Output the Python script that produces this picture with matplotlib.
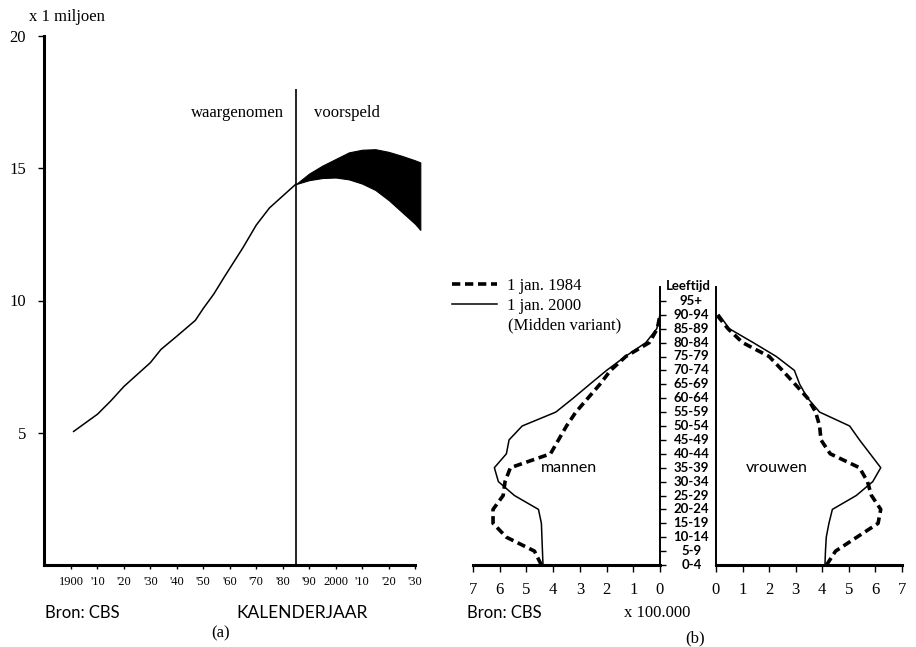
import numpy as np
import matplotlib.pyplot as plt
from matplotlib.lines import Line2D

# population of the Netherlands, millions (observed)
years = [1901, 1910, 1915, 1920, 1930, 1934, 1940, 1947, 1950, 1954, 1958, 1965, 1970, 1975, 1980, 1985]
pop = [5.05, 5.7, 6.2, 6.75, 7.65, 8.15, 8.65, 9.25, 9.7, 10.25, 10.9, 12.0, 12.85, 13.5, 13.95, 14.4]

# forecast band (upper / lower variant)
proj_years = [1985, 1990, 1995, 2000, 2005, 2010, 2015, 2020, 2025, 2030, 2032]
proj_high = [14.4, 14.8, 15.1, 15.35, 15.6, 15.7, 15.72, 15.62, 15.47, 15.3, 15.22]
proj_low = [14.4, 14.55, 14.63, 14.65, 14.58, 14.42, 14.18, 13.8, 13.35, 12.9, 12.67]

decade_ticks = list(range(1900, 2031, 10))
decade_labels = ["1900", "'10", "'20", "'30", "'40", "'50", "'60", "'70", "'80",
                 "'90", "2000", "'10", "'20", "'30"]

# age pyramid, x 100.000
age_groups = ["0-4", "5-9", "10-14", "15-19", "20-24", "25-29", "30-34", "35-39",
              "40-44", "45-49", "50-54", "55-59", "60-64", "65-69", "70-74",
              "75-79", "80-84", "85-89", "90-94", "95+"]
men_1984 = [4.44, 4.7, 5.75, 6.25, 6.25, 5.87, 5.8, 5.6, 4.1, 3.8, 3.5, 3.15,
            2.7, 2.25, 1.85, 1.28, 0.4, 0.1, 0.0]
men_2000 = [4.38, 4.4, 4.42, 4.44, 4.55, 5.45, 6.05, 6.2, 5.75, 5.65, 5.16, 3.9,
            3.25, 2.63, 2.0, 1.3, 0.53, 0.12, 0.0]
women_1984 = [4.16, 4.5, 5.3, 6.1, 6.2, 5.85, 5.7, 5.4, 4.3, 3.95, 3.9, 3.75,
              3.45, 2.98, 2.5, 2.0, 1.0, 0.45, 0.03]
women_2000 = [4.1, 4.12, 4.15, 4.25, 4.38, 5.28, 5.9, 6.2, 5.8, 5.4, 5.03, 3.9,
              3.45, 3.15, 2.95, 2.27, 1.4, 0.5, 0.12]

serif = "Liberation Serif"
sans = "Lato"

W, H = 916, 647
fig = plt.figure(figsize=(W / 100, H / 100), dpi=100)


def box(x0, y0, x1, y1):
    # pixel box -> figure fraction
    return [x0 / W, 1 - y1 / H, (x1 - x0) / W, (y1 - y0) / H]


# ---------------- (a) total population ----------------
ax = fig.add_axes(box(44, 36, 415, 565))
ax.plot(years, pop, color="black", lw=1.1)
ax.fill_between(proj_years, proj_low, proj_high, color="black", lw=0.8, clip_on=False)
ax.vlines(1985, 0, 18, color="black", lw=1.2, clip_on=False)
ax.set_xlim(1889.8, 2030)
ax.set_ylim(0, 20)
for s in ["top", "right"]:
    ax.spines[s].set_visible(False)
ax.spines["left"].set_linewidth(2.2)
ax.spines["bottom"].set_linewidth(2.2)
ax.set_yticks([5, 10, 15, 20])
ax.set_yticklabels(["5", "10", "15", "20"], fontfamily=serif, fontsize=12)
ax.tick_params(axis="y", length=4, width=1, pad=9)
ax.set_xticks(decade_ticks)
ax.set_xticklabels(decade_labels, fontfamily=serif, fontsize=9)
ax.tick_params(axis="x", length=3, width=1, pad=5)
ax.text(1980.5, 17.1, "waargenomen", fontfamily=serif, fontsize=12, ha="right", va="center")
ax.text(1992, 17.1, "voorspeld", fontfamily=serif, fontsize=12, ha="left", va="center")

fig.text(29 / W, 1 - 17 / H, "x 1 miljoen", fontfamily=serif, fontsize=12, ha="left", va="center")
fig.text(45 / W, 1 - 613 / H, "Bron: CBS", fontfamily=sans, fontsize=12, ha="left", va="center")
fig.text(302 / W, 1 - 613 / H, "KALENDERJAAR", fontfamily=sans, fontsize=12.5, ha="center", va="center")
fig.text(221 / W, 1 - 633 / H, "(a)", fontfamily=serif, fontsize=12, ha="center", va="center")

# ---------------- (b) age pyramid ----------------
idx = np.arange(len(age_groups))
dash = dict(color="black", lw=2.6, linestyle=(0, (2.3, 1.3)))
solid = dict(color="black", lw=1.1)

axm = fig.add_axes(box(473, 287, 660, 565))
axm.plot(men_1984, idx[:len(men_1984)], **dash)
axm.plot(men_2000, idx[:len(men_2000)], **solid)
axm.set_xlim(7, 0)
axm.set_ylim(0, 20)
for s in ["top", "left"]:
    axm.spines[s].set_visible(False)
axm.spines["bottom"].set_linewidth(2.2)
axm.spines["right"].set_linewidth(1.4)
axm.yaxis.tick_right()
axm.set_yticks(idx)
axm.set_yticklabels([])
axm.tick_params(axis="y", length=4, width=1, direction="out")
axm.set_xticks(range(8))
axm.set_xticklabels([str(v) for v in range(8)], fontfamily=serif, fontsize=12)
axm.tick_params(axis="x", length=5, width=1, pad=7)
axm.text(3.4, 7, "mannen", fontfamily=sans, fontsize=11.5, ha="center", va="center")

axw = fig.add_axes(box(716, 287, 902, 565))
axw.plot(women_1984, idx[:len(women_1984)], **dash)
axw.plot(women_2000, idx[:len(women_2000)], **solid)
axw.set_xlim(0, 7)
axw.set_ylim(0, 20)
for s in ["top", "right"]:
    axw.spines[s].set_visible(False)
axw.spines["bottom"].set_linewidth(2.2)
axw.spines["left"].set_linewidth(1.4)
axw.set_yticks([])
axw.set_xticks(range(8))
axw.set_xticklabels([str(v) for v in range(8)], fontfamily=serif, fontsize=12)
axw.tick_params(axis="x", length=5, width=1, pad=7)
axw.text(2.3, 7, "vrouwen", fontfamily=sans, fontsize=11.5, ha="center", va="center")

# age labels in the gap
axc = fig.add_axes(box(660, 287, 716, 565))
axc.set_xlim(0, 1)
axc.set_ylim(0, 20)
axc.axis("off")
for i, lab in enumerate(age_groups):
    axc.text(0.56, i, lab, fontfamily=sans, fontweight="bold", fontsize=9.5,
             ha="center", va="center", clip_on=False)
axc.text(0.5, 20.1, "Leeftijd", fontfamily=sans, fontweight="bold", fontsize=9.5,
         ha="center", va="center", clip_on=False)

# legend
handles = [Line2D([], [], **dash), Line2D([], [], **solid)]
fig.legend(handles, ["1 jan. 1984", "1 jan. 2000"], loc="upper left",
           bbox_to_anchor=(452 / W, 1 - 278 / H), frameon=False,
           prop={"family": serif, "size": 12}, handlelength=2.7,
           handletextpad=0.6, labelspacing=0.25, borderpad=0, borderaxespad=0)
fig.text(508 / W, 1 - 325 / H, "(Midden variant)", fontfamily=serif, fontsize=12,
         ha="left", va="center")

fig.text(467 / W, 1 - 613 / H, "Bron: CBS", fontfamily=sans, fontsize=12, ha="left", va="center")
fig.text(657 / W, 1 - 613 / H, "x 100.000", fontfamily=serif, fontsize=12, ha="center", va="center")
fig.text(695 / W, 1 - 638 / H, "(b)", fontfamily=serif, fontsize=12, ha="center", va="center")

fig.savefig("out.png", dpi=100, facecolor="white")
